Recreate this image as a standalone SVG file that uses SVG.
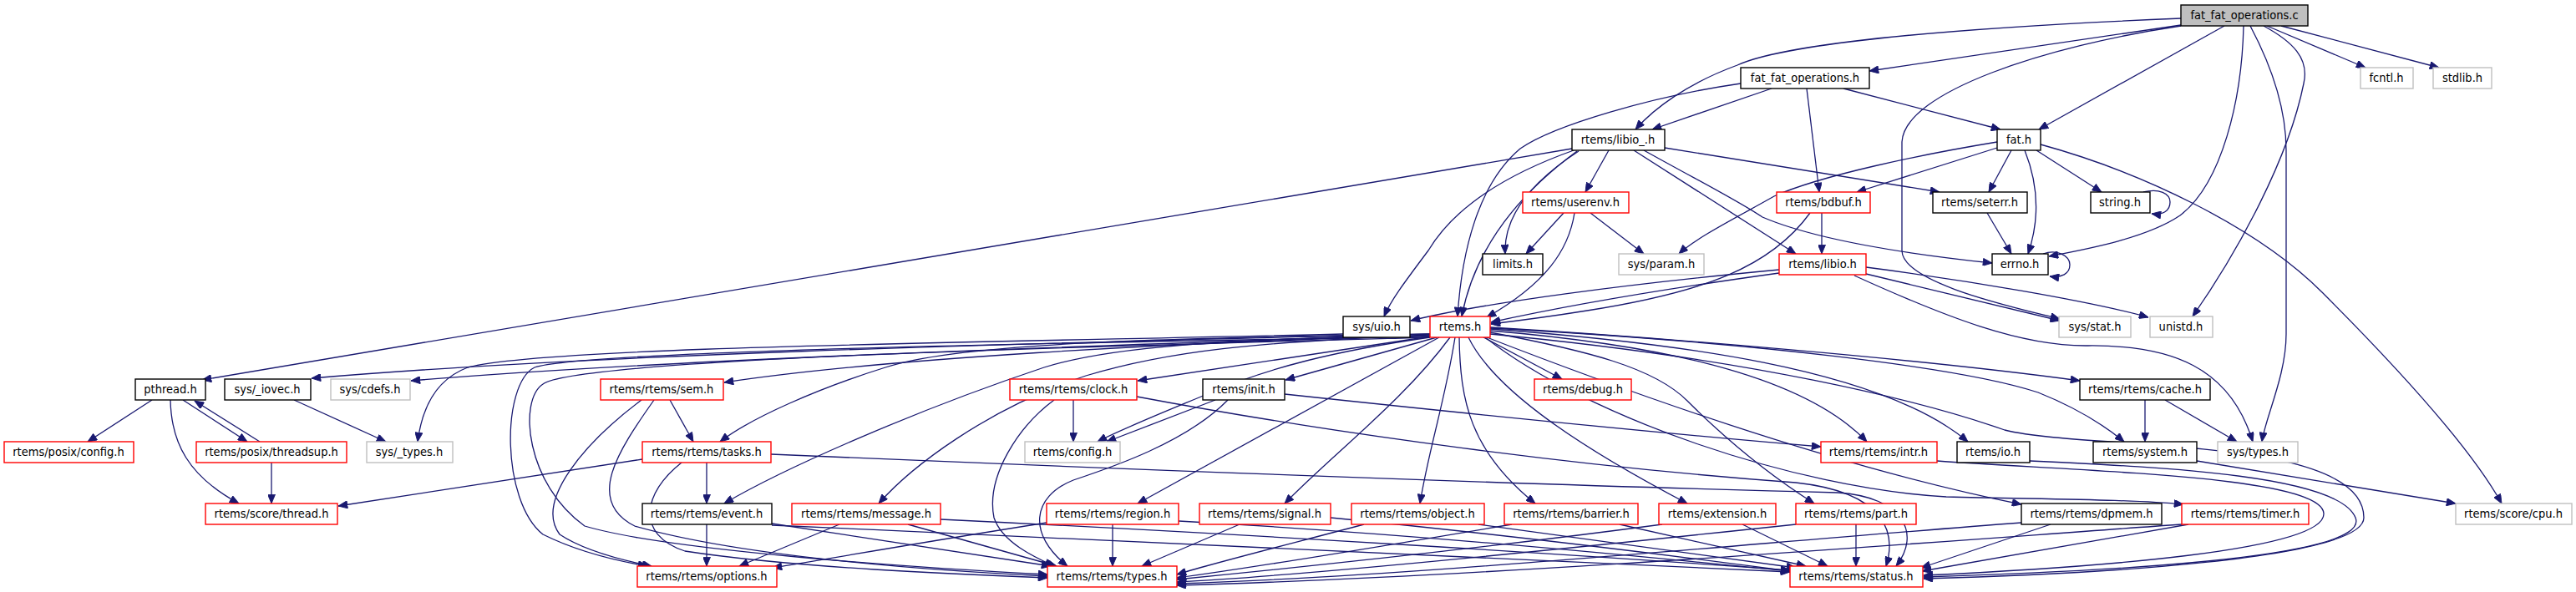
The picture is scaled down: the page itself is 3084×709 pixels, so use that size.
<svg xmlns="http://www.w3.org/2000/svg" width="3084" height="709" viewBox="0 0 3084 709">
<style>
.n rect{fill:#fff;stroke-width:1.4}
.b rect{stroke:#000}
.r rect{stroke:#ff0000}
.g rect{stroke:#bfbfbf}
.c rect{fill:#bfbfbf;stroke:#000}
.n text{font-family:"DejaVu Sans Condensed","DejaVu Sans",sans-serif;font-stretch:condensed;font-size:14.5px;fill:#000;text-anchor:middle}
.e path{fill:none;stroke:#191970;stroke-width:1.3;marker-end:url(#a)}
</style>
<defs>
<marker id="a" viewBox="0 0 12 10" refX="12" refY="5" markerWidth="12" markerHeight="9" markerUnits="userSpaceOnUse" orient="auto"><path d="M0,0 L12,5 L0,10 z" fill="#191970" stroke="#191970"/></marker>
</defs>
<rect width="3084" height="709" fill="#fff"/>
<g id="edges" class="e">
<!-- from .c -->
<path d="M2611,22 C2300,35 2130,55 2080,78 C2020,100 1980,130 1958,155"/>
<path d="M2611,30 L2238,85"/>
<path d="M2611,31 C2450,55 2280,110 2277,170 L2277,300 C2277,340 2420,370 2466,382"/>
<path d="M2663,31 L2441,155"/>
<path d="M2686,31 C2684,120 2660,220 2610,258 C2570,285 2500,298 2453,307"/>
<path d="M2694,31 C2720,80 2737,130 2737,180 L2737,400 C2737,450 2712,500 2708,529"/>
<path d="M2710,31 C2745,50 2765,70 2758,100 C2740,190 2680,300 2625,379"/>
<path d="M2714,31 L2832,81"/>
<path d="M2731,31 L2920,81"/>
<!-- fat_fat_operations.h -->
<path d="M2121,106 L1978,155"/>
<path d="M2163,106 L2178,230"/>
<path d="M2207,106 L2395,155"/>
<path d="M2084,100 C1980,115 1860,150 1820,178 C1770,220 1750,300 1745,379"/>
<!-- libio_.h -->
<path d="M1882,178 L242,455"/>
<path d="M1884,180 C1800,210 1740,250 1710,300 C1680,340 1665,360 1657,379"/>
<path d="M1888,181 C1815,235 1765,300 1750,379"/>
<path d="M1890,181 C1830,220 1800,260 1802,304"/>
<path d="M1926,180 L1898,230"/>
<path d="M1956,180 L2150,304"/>
<path d="M1968,180 C2040,220 2080,240 2110,260 C2180,290 2300,306 2385,315"/>
<path d="M1993,177 L2322,230"/>
<!-- fat.h -->
<path d="M2391,170 C2300,185 2180,210 2124,235 C2080,260 2030,285 2010,304"/>
<path d="M2391,177 L2223,230"/>
<path d="M2408,180 L2381,230"/>
<path d="M2424,180 C2440,220 2443,260 2428,304"/>
<path d="M2438,180 L2516,230"/>
<path d="M2443,173 C2560,205 2700,270 2780,350 C2880,450 2960,540 2995,603"/>
<!-- userenv / bdbuf / seterr -->
<path d="M1872,255 L1827,304"/>
<path d="M1885,255 C1878,300 1850,340 1780,380"/>
<path d="M1904,255 L1968,304"/>
<path d="M2181,255 L2181,304"/>
<path d="M2167,255 C2120,320 2040,350 1900,372 C1850,380 1810,385 1785,388"/>
<path d="M2379,255 L2408,304"/>
<!-- self loops -->
<path d="M2446,304 C2462,298 2478,306 2478,317 C2478,328 2468,333 2454,331"/>
<path d="M2566,230 C2585,225 2598,232 2598,242 C2598,252 2590,258 2576,256"/>
<!-- libio.h -->
<path d="M2130,323 C1950,340 1780,362 1689,384"/>
<path d="M2130,327 C2000,345 1880,365 1785,386"/>
<path d="M2234,320 C2350,335 2500,360 2572,380"/>
<path d="M2234,328 L2466,384"/>
<path d="M2220,330 C2330,380 2420,415 2500,414 C2600,413 2670,440 2697,529"/>
<!-- sys/uio.h -->
<path d="M1608,400 C1200,410 650,415 560,440 C520,455 505,490 500,529"/>
<path d="M1608,402 C1200,412 700,425 373,453"/>
<path d="M1608,404 C1300,415 800,430 492,456"/>
<!-- posix -->
<path d="M182,479 L105,529"/>
<path d="M219,479 L296,529"/>
<path d="M311,529 L233,480"/>
<path d="M204,479 C205,530 225,570 286,603"/>
<path d="M325,554 L325,603"/>
<path d="M352,479 L462,529"/>
<path d="M769,550 L405,606"/>
<!-- rtems.h -->
<path d="M1712,402 C1400,410 1050,430 867,458"/>
<path d="M1712,400 C1400,405 1150,410 1060,440 C980,465 900,500 862,529"/>
<path d="M1712,400 C1450,408 1330,415 1250,440 C1100,490 940,560 867,603"/>
<path d="M1712,401 C1500,410 1400,420 1300,450 C1180,490 1090,560 1052,603"/>
<path d="M1712,403 L1362,456"/>
<path d="M1720,404 L1539,455"/>
<path d="M1712,404 C1600,420 1520,440 1450,470 C1390,495 1340,515 1314,529"/>
<path d="M1723,404 L1362,603"/>
<path d="M1736,404 C1680,480 1600,540 1538,603"/>
<path d="M1742,404 C1730,480 1710,540 1700,603"/>
<path d="M1747,404 C1748,480 1760,540 1838,603"/>
<path d="M1758,404 C1790,470 1900,540 2020,603"/>
<path d="M1776,404 L1870,454"/>
<path d="M1784,398 C1900,420 1980,440 2020,480 C2070,530 2120,570 2172,603"/>
<path d="M1784,396 C1950,410 2150,440 2235,529"/>
<path d="M1784,394 C2000,410 2250,440 2356,529"/>
<path d="M1784,392 C2000,405 2300,430 2490,456"/>
<path d="M1784,393 C2100,410 2350,440 2440,470 C2490,490 2520,510 2543,529"/>
<path d="M1780,404 C1950,470 2200,560 2420,604"/>
<path d="M1778,404 C1900,500 2150,585 2330,595 C2450,598 2550,598 2614,604"/>
<path d="M1784,400 C2100,430 2300,480 2400,515 C2500,540 2830,520 2830,620 C2830,670 2500,688 2303,693"/>
<path d="M1712,403 C1300,410 700,420 640,440 C600,460 600,600 650,640 C690,660 740,672 775,678"/>
<path d="M1712,404 C1300,415 690,430 650,460 C620,480 630,580 700,630 C800,660 1100,680 1254,688"/>
<!-- sem.h / tasks.h -->
<path d="M802,479 L830,529"/>
<path d="M768,479 C700,530 640,600 670,640 C700,660 750,672 780,678"/>
<path d="M783,479 C740,540 700,600 760,630 C900,670 1150,685 1254,690"/>
<path d="M846,554 L846,603"/>
<path d="M923,544 C1300,560 1800,580 2200,590 C2280,595 2300,640 2270,678"/>
<path d="M816,554 C770,590 760,640 820,660 C950,680 1150,688 1254,692"/>
<!-- clock / init -->
<path d="M1285,479 L1285,529"/>
<path d="M1455,479 L1325,529"/>
<path d="M1262,479 C1220,510 1180,570 1190,620 C1200,650 1240,668 1262,678"/>
<path d="M1470,479 C1420,530 1330,560 1285,575 C1235,595 1230,640 1278,678"/>
<path d="M1538,472 C1800,500 2000,520 2180,535"/>
<path d="M1361,475 C1600,520 1900,560 2150,578 C2260,590 2270,640 2258,678"/>
<!-- row 8 -> row 9 -->
<path d="M846,628 L846,678"/>
<path d="M924,627 L1258,678"/>
<path d="M924,629 C1400,650 1900,670 2143,685"/>
<path d="M1005,628 L885,678"/>
<path d="M1087,628 L1265,678"/>
<path d="M1126,622 C1500,640 1900,665 2143,683"/>
<path d="M1253,626 C1100,650 1000,668 925,680"/>
<path d="M1332,628 L1332,678"/>
<path d="M1411,624 C1700,640 1950,665 2143,684"/>
<path d="M1484,628 L1367,678"/>
<path d="M1593,620 C1800,640 2000,665 2143,684"/>
<path d="M1633,628 C1550,650 1450,675 1409,688"/>
<path d="M1770,628 L2150,680"/>
<path d="M1810,628 C1650,655 1500,680 1409,692"/>
<path d="M1939,628 L2162,678"/>
<path d="M1990,628 C1750,660 1500,685 1409,694"/>
<path d="M2086,628 L2188,678"/>
<path d="M2150,628 C1850,660 1550,690 1409,697"/>
<path d="M2222,628 L2222,678"/>
<path d="M2420,626 C2100,650 1700,690 1409,699"/>
<path d="M2455,628 L2300,680"/>
<path d="M2612,628 C2300,650 1800,690 1409,701"/>
<path d="M2620,628 L2301,684"/>
<!-- row 7 right -->
<path d="M2319,552 C2500,565 2780,570 2782,615 C2784,660 2500,680 2303,689"/>
<path d="M2430,552 C2600,560 2800,570 2820,620 C2840,670 2500,685 2303,691"/>
<path d="M2630,552 L2940,603"/>
<path d="M2568,479 L2568,529"/>
<path d="M2592,479 L2678,529"/>
</g>
<g id="n_c" class="n c"><rect x="2611" y="6" width="152" height="25"/><text x="2687" y="23">fat_fat_operations.c</text></g>
<g id="n_ffoh" class="n b"><rect x="2084" y="81" width="154" height="25"/><text x="2161" y="98">fat_fat_operations.h</text></g>
<g id="n_fcntl" class="n g"><rect x="2826" y="81" width="63" height="25"/><text x="2857" y="98">fcntl.h</text></g>
<g id="n_stdlib" class="n g"><rect x="2913" y="81" width="70" height="25"/><text x="2948" y="98">stdlib.h</text></g>
<g id="n_libio_" class="n b"><rect x="1882" y="155" width="111" height="25"/><text x="1937" y="172">rtems/libio_.h</text></g>
<g id="n_fat" class="n b"><rect x="2391" y="155" width="52" height="25"/><text x="2417" y="172">fat.h</text></g>
<g id="n_userenv" class="n r"><rect x="1823" y="230" width="127" height="25"/><text x="1886" y="247">rtems/userenv.h</text></g>
<g id="n_bdbuf" class="n r"><rect x="2127" y="230" width="112" height="25"/><text x="2183" y="247">rtems/bdbuf.h</text></g>
<g id="n_seterr" class="n b"><rect x="2314" y="230" width="113" height="25"/><text x="2370" y="247">rtems/seterr.h</text></g>
<g id="n_string" class="n b"><rect x="2503" y="230" width="71" height="25"/><text x="2538" y="247">string.h</text></g>
<g id="n_limits" class="n b"><rect x="1775" y="304" width="72" height="25"/><text x="1811" y="321">limits.h</text></g>
<g id="n_param" class="n g"><rect x="1938" y="304" width="102" height="25"/><text x="1989" y="321">sys/param.h</text></g>
<g id="n_libio" class="n r"><rect x="2130" y="304" width="104" height="25"/><text x="2182" y="321">rtems/libio.h</text></g>
<g id="n_errno" class="n b"><rect x="2385" y="304" width="67" height="25"/><text x="2418" y="321">errno.h</text></g>
<g id="n_uio" class="n b"><rect x="1608" y="379" width="80" height="25"/><text x="1648" y="396">sys/uio.h</text></g>
<g id="n_rtems" class="n r"><rect x="1712" y="379" width="72" height="25"/><text x="1748" y="396">rtems.h</text></g>
<g id="n_stat" class="n g"><rect x="2465" y="379" width="86" height="25"/><text x="2508" y="396">sys/stat.h</text></g>
<g id="n_unistd" class="n g"><rect x="2574" y="379" width="75" height="25"/><text x="2611" y="396">unistd.h</text></g>
<g id="n_pthread" class="n b"><rect x="162" y="454" width="84" height="25"/><text x="204" y="471">pthread.h</text></g>
<g id="n_iovec" class="n b"><rect x="269" y="454" width="103" height="25"/><text x="320" y="471">sys/_iovec.h</text></g>
<g id="n_cdefs" class="n g"><rect x="396" y="454" width="95" height="25"/><text x="443" y="471">sys/cdefs.h</text></g>
<g id="n_sem" class="n r"><rect x="719" y="454" width="147" height="25"/><text x="792" y="471">rtems/rtems/sem.h</text></g>
<g id="n_clock" class="n r"><rect x="1209" y="454" width="152" height="25"/><text x="1285" y="471">rtems/rtems/clock.h</text></g>
<g id="n_init" class="n b"><rect x="1440" y="454" width="98" height="25"/><text x="1489" y="471">rtems/init.h</text></g>
<g id="n_debug" class="n r"><rect x="1837" y="454" width="116" height="25"/><text x="1895" y="471">rtems/debug.h</text></g>
<g id="n_cache" class="n b"><rect x="2490" y="454" width="156" height="25"/><text x="2568" y="471">rtems/rtems/cache.h</text></g>
<g id="n_pconfig" class="n r"><rect x="5" y="529" width="155" height="25"/><text x="82" y="546">rtems/posix/config.h</text></g>
<g id="n_threadsup" class="n r"><rect x="235" y="529" width="180" height="25"/><text x="325" y="546">rtems/posix/threadsup.h</text></g>
<g id="n_stypes" class="n g"><rect x="439" y="529" width="103" height="25"/><text x="490" y="546">sys/_types.h</text></g>
<g id="n_tasks" class="n r"><rect x="769" y="529" width="154" height="25"/><text x="846" y="546">rtems/rtems/tasks.h</text></g>
<g id="n_config" class="n g"><rect x="1227" y="529" width="114" height="25"/><text x="1284" y="546">rtems/config.h</text></g>
<g id="n_intr" class="n r"><rect x="2180" y="529" width="139" height="25"/><text x="2249" y="546">rtems/rtems/intr.h</text></g>
<g id="n_io" class="n b"><rect x="2343" y="529" width="87" height="25"/><text x="2386" y="546">rtems/io.h</text></g>
<g id="n_system" class="n b"><rect x="2506" y="529" width="124" height="25"/><text x="2568" y="546">rtems/system.h</text></g>
<g id="n_systypes" class="n g"><rect x="2655" y="529" width="96" height="25"/><text x="2703" y="546">sys/types.h</text></g>
<g id="n_thread" class="n r"><rect x="246" y="603" width="158" height="25"/><text x="325" y="620">rtems/score/thread.h</text></g>
<g id="n_event" class="n b"><rect x="769" y="603" width="155" height="25"/><text x="846" y="620">rtems/rtems/event.h</text></g>
<g id="n_message" class="n r"><rect x="948" y="603" width="178" height="25"/><text x="1037" y="620">rtems/rtems/message.h</text></g>
<g id="n_region" class="n r"><rect x="1253" y="603" width="158" height="25"/><text x="1332" y="620">rtems/rtems/region.h</text></g>
<g id="n_signal" class="n r"><rect x="1436" y="603" width="157" height="25"/><text x="1514" y="620">rtems/rtems/signal.h</text></g>
<g id="n_object" class="n r"><rect x="1618" y="603" width="159" height="25"/><text x="1697" y="620">rtems/rtems/object.h</text></g>
<g id="n_barrier" class="n r"><rect x="1801" y="603" width="160" height="25"/><text x="1881" y="620">rtems/rtems/barrier.h</text></g>
<g id="n_extension" class="n r"><rect x="1986" y="603" width="140" height="25"/><text x="2056" y="620">rtems/extension.h</text></g>
<g id="n_part" class="n r"><rect x="2150" y="603" width="144" height="25"/><text x="2222" y="620">rtems/rtems/part.h</text></g>
<g id="n_dpmem" class="n b"><rect x="2420" y="603" width="168" height="25"/><text x="2504" y="620">rtems/rtems/dpmem.h</text></g>
<g id="n_timer" class="n r"><rect x="2612" y="603" width="152" height="25"/><text x="2688" y="620">rtems/rtems/timer.h</text></g>
<g id="n_cpu" class="n g"><rect x="2940" y="603" width="139" height="25"/><text x="3009" y="620">rtems/score/cpu.h</text></g>
<g id="n_options" class="n r"><rect x="763" y="678" width="167" height="25"/><text x="846" y="695">rtems/rtems/options.h</text></g>
<g id="n_types" class="n r"><rect x="1254" y="678" width="155" height="25"/><text x="1331" y="695">rtems/rtems/types.h</text></g>
<g id="n_status" class="n r"><rect x="2143" y="678" width="159" height="25"/><text x="2222" y="695">rtems/rtems/status.h</text></g>
</svg>
